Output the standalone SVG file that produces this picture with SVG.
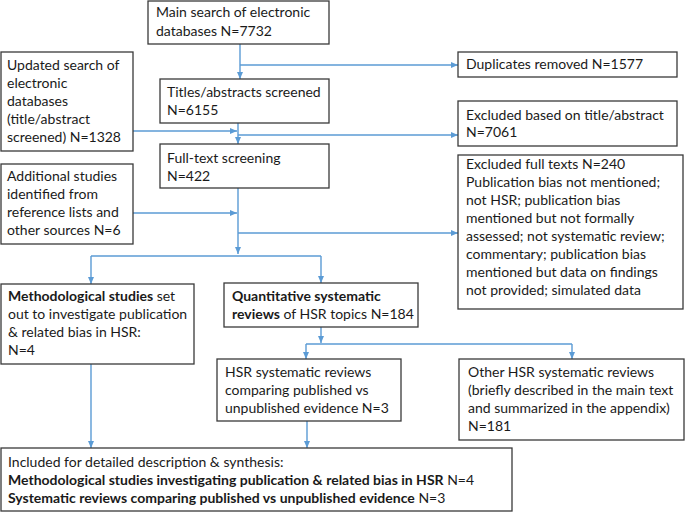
<svg xmlns="http://www.w3.org/2000/svg" width="685" height="512" viewBox="0 0 685 512">
<defs>
<marker id="ah" markerUnits="userSpaceOnUse" markerWidth="8" markerHeight="8" viewBox="0 0 8 8" refX="7" refY="4" orient="auto">
<path d="M0,1 L7,4 L0,7 Z" fill="#5B9BD5"/>
</marker>
<style>
rect.b{fill:#fff;stroke:#3a3a3a;stroke-width:1.3}
text{font-family:Lato,"Liberation Sans",sans-serif;font-size:14px;fill:#1a1a1a}
.bd{font-weight:bold}
#connectors path{fill:none;stroke:#5B9BD5;stroke-width:1.4}
</style>
</defs>
<rect width="685" height="512" fill="#fff"/>
<g id="connectors">
<path d="M240,44 V79" marker-end="url(#ah)"/>
<path d="M240,65 H458" marker-end="url(#ah)"/>
<path d="M238,123 V144" marker-end="url(#ah)"/>
<path d="M133,131 H237" marker-end="url(#ah)"/>
<path d="M238,135 H458" marker-end="url(#ah)"/>
<path d="M238,188 V254" marker-end="url(#ah)"/>
<path d="M133,213 H237" marker-end="url(#ah)"/>
<path d="M238,233 H458" marker-end="url(#ah)"/>
<path d="M91,256 H321"/>
<path d="M91,256 V284" marker-end="url(#ah)"/>
<path d="M321,256 V283" marker-end="url(#ah)"/>
<path d="M321,327 V343" marker-end="url(#ah)"/>
<path d="M306,344 H572"/>
<path d="M306,344 V359" marker-end="url(#ah)"/>
<path d="M572,344 V359" marker-end="url(#ah)"/>
<path d="M91,364 V448" marker-end="url(#ah)"/>
<path d="M307,421 V448" marker-end="url(#ah)"/>
</g>
<g id="main">
<rect class="b" x="148" y="1" width="181" height="43"/>
<text x="156" y="17">Main search of electronic</text>
<text x="156" y="36">databases N=7732</text>
</g>
<g id="updated">
<rect class="b" x="1" y="52" width="132" height="99"/>
<text x="7" y="70">Updated search of</text>
<text x="7" y="88">electronic</text>
<text x="7" y="106">databases</text>
<text x="7" y="124">(title/abstract</text>
<text x="7" y="142">screened) N=1328</text>
</g>
<g id="titles">
<rect class="b" x="160" y="79" width="169" height="44"/>
<text x="167" y="97">Titles/abstracts screened</text>
<text x="167" y="115">N=6155</text>
</g>
<g id="fulltext">
<rect class="b" x="160" y="144" width="169" height="44"/>
<text x="167" y="163">Full-text screening</text>
<text x="167" y="181">N=422</text>
</g>
<g id="duplicates">
<rect class="b" x="458" y="52" width="219" height="25"/>
<text x="466" y="69">Duplicates removed N=1577</text>
</g>
<g id="excl-title">
<rect class="b" x="458" y="101" width="219" height="45"/>
<text x="466" y="120">Excluded based on title/abstract</text>
<text x="466" y="137">N=7061</text>
</g>
<g id="excl-full">
<rect class="b" x="458" y="155" width="225" height="154"/>
<text x="466" y="169">Excluded full texts N=240</text>
<text x="466" y="187">Publication bias not mentioned;</text>
<text x="466" y="205">not HSR; publication bias</text>
<text x="466" y="223">mentioned but not formally</text>
<text x="466" y="241">assessed; not systematic review;</text>
<text x="466" y="259">commentary; publication bias</text>
<text x="466" y="277">mentioned but data on findings</text>
<text x="466" y="295">not provided; simulated data</text>
</g>
<g id="additional">
<rect class="b" x="1" y="164" width="132" height="80"/>
<text x="7" y="181">Additional studies</text>
<text x="7" y="199">identified from</text>
<text x="7" y="217">reference lists and</text>
<text x="7" y="235">other sources N=6</text>
</g>
<g id="methodological">
<rect class="b" x="1" y="284" width="193" height="80"/>
<text x="8" y="301"><tspan class="bd">Methodological studies</tspan> set</text>
<text x="8" y="319">out to investigate publication</text>
<text x="8" y="337">&amp; related bias in HSR:</text>
<text x="8" y="355">N=4</text>
</g>
<g id="quantitative">
<rect class="b" x="224" y="283" width="194" height="44"/>
<text x="232" y="301" class="bd">Quantitative systematic</text>
<text x="232" y="319"><tspan class="bd">reviews</tspan> of HSR topics N=184</text>
</g>
<g id="comparing">
<rect class="b" x="217" y="359" width="184" height="62"/>
<text x="225" y="377">HSR systematic reviews</text>
<text x="225" y="395">comparing published vs</text>
<text x="225" y="413">unpublished evidence N=3</text>
</g>
<g id="other">
<rect class="b" x="459" y="359" width="225" height="81"/>
<text x="468" y="377">Other HSR systematic reviews</text>
<text x="468" y="395">(briefly described in the main text</text>
<text x="468" y="413">and summarized in the appendix)</text>
<text x="468" y="431">N=181</text>
</g>
<g id="included">
<rect class="b" x="1" y="448" width="511" height="63"/>
<text x="8" y="467">Included for detailed description &amp; synthesis:</text>
<text x="8" y="485"><tspan class="bd">Methodological studies investigating publication &amp; related bias in HSR</tspan> N=4</text>
<text x="8" y="503"><tspan class="bd">Systematic reviews comparing published vs unpublished evidence</tspan> N=3</text>
</g>
</svg>
